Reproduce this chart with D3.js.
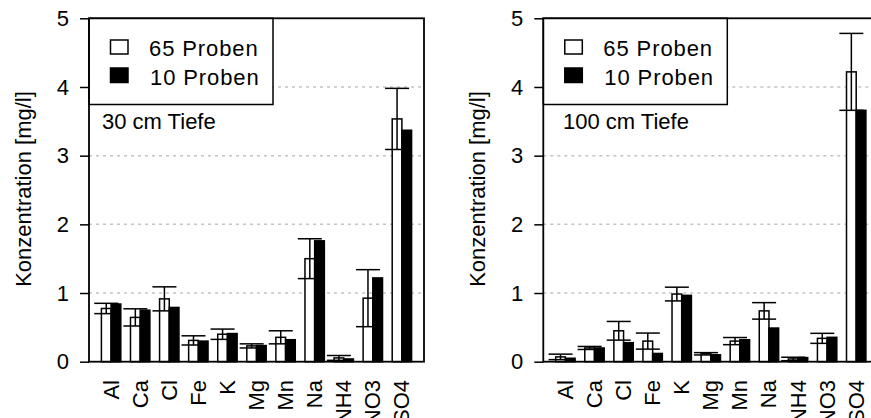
<!DOCTYPE html>
<html>
<head>
<meta charset="utf-8">
<script src="https://cdn.jsdelivr.net/npm/d3@7"></script>
<style>
  html, body { margin: 0; padding: 0; background: #fff; }
  svg { display: block; font-family: "Liberation Sans", Arial, Helvetica, sans-serif; }
</style>
</head>
<body>
<svg id="chart" width="871" height="418"></svg>
<script>
const categories = ["Al","Ca","Cl","Fe","K","Mg","Mn","Na","NH4","NO3","SO4"];
const seriesNames = ["65 Proben", "10 Proben"];

// 30 cm Tiefe
const mean65_30 = [0.775, 0.645, 0.915, 0.31, 0.40, 0.23, 0.355, 1.50, 0.055, 0.925, 3.535];
const err65_30  = [0.075, 0.125, 0.175, 0.067, 0.075, 0.03, 0.095, 0.29, 0.035, 0.415, 0.445];
const mean10_30 = [0.84, 0.75, 0.79, 0.30, 0.41, 0.235, 0.32, 1.76, 0.04, 1.22, 3.37];

// 100 cm Tiefe
const mean65_100 = [0.07, 0.20, 0.45, 0.30, 0.985, 0.115, 0.30, 0.74, 0.04, 0.34, 4.22];
const err65_100  = [0.04, 0.022, 0.136, 0.117, 0.10, 0.017, 0.052, 0.12, 0.025, 0.073, 0.56];
const mean10_100 = [0.05, 0.20, 0.277, 0.12, 0.966, 0.10, 0.32, 0.49, 0.06, 0.355, 3.66];

const yTicks = [0, 1, 2, 3, 4, 5];
const gridValues = [1, 2, 3, 4];
const yLabel = "Konzentration [mg/l]";
const panelTitles = ["30 cm Tiefe", "100 cm Tiefe"];

(function () {
const svg = d3.select("#chart");
const FONT = 22;

const panels = [
  { ox: 0, title: panelTitles[0], titleX: 102, m65: mean65_30, e65: err65_30, m10: mean10_30 },
  { ox: 454.3, title: panelTitles[1], titleX: 108.7, m65: mean65_100, e65: err65_100, m10: mean10_100 }
];

const pL = 89, pR = 424, pT = 18.3, pB = 361.7;

panels.forEach(p => {
  const g = svg.append("g").attr("transform", `translate(${p.ox},0)`);

  const y = d3.scaleLinear().domain([0, 5]).range([pB, pT]);
  const x0 = d3.scaleBand().domain(categories).range([pL, pR])
    .paddingInner(1/3).paddingOuter(0.4267);
  const x1 = d3.scaleBand().domain(seriesNames).range([0, x0.bandwidth()]).padding(0);

  // grid lines
  g.append("g").selectAll("line").data(gridValues).join("line")
    .attr("x1", pL).attr("x2", pR)
    .attr("y1", d => y(d)).attr("y2", d => y(d))
    .attr("stroke", "#c4c4c4").attr("stroke-width", 1.5)
    .attr("stroke-dasharray", "3,4");

  const rows = categories.map((c, i) => ({ c, m65: p.m65[i], e65: p.e65[i], m10: p.m10[i] }));

  // open bars
  g.append("g").selectAll("rect").data(rows).join("rect")
    .attr("x", d => x0(d.c) + x1(seriesNames[0]))
    .attr("width", x1.bandwidth())
    .attr("y", d => y(d.m65))
    .attr("height", d => y(0) - y(d.m65))
    .attr("fill", "#fff").attr("stroke", "#000").attr("stroke-width", 1.5);

  // black bars
  g.append("g").selectAll("rect").data(rows).join("rect")
    .attr("x", d => x0(d.c) + x1(seriesNames[1]))
    .attr("width", x1.bandwidth())
    .attr("y", d => y(d.m10))
    .attr("height", d => y(0) - y(d.m10))
    .attr("fill", "#000").attr("stroke", "#000").attr("stroke-width", 1.5);

  // error bars on open bars
  const eb = g.append("g").attr("stroke", "#000").attr("stroke-width", 1.5);
  const cx = d => x0(d.c) + x1(seriesNames[0]) + x1.bandwidth() / 2;
  const capHalf = 12;
  eb.selectAll("line.v").data(rows).join("line").attr("class", "v")
    .attr("x1", cx).attr("x2", cx)
    .attr("y1", d => y(d.m65 - d.e65)).attr("y2", d => y(d.m65 + d.e65));
  eb.selectAll("line.t").data(rows).join("line").attr("class", "t")
    .attr("x1", d => cx(d) - capHalf).attr("x2", d => cx(d) + capHalf)
    .attr("y1", d => y(d.m65 + d.e65)).attr("y2", d => y(d.m65 + d.e65));
  eb.selectAll("line.b").data(rows).join("line").attr("class", "b")
    .attr("x1", d => cx(d) - capHalf).attr("x2", d => cx(d) + capHalf)
    .attr("y1", d => y(d.m65 - d.e65)).attr("y2", d => y(d.m65 - d.e65));

  // legend box
  const lg = g.append("g");
  lg.append("rect").attr("x", pL).attr("y", pT).attr("width", 184).attr("height", 86.2)
    .attr("fill", "#fff").attr("stroke", "#000").attr("stroke-width", 1.5);
  lg.append("rect").attr("x", 110.5).attr("y", 40).attr("width", 17.5).attr("height", 14)
    .attr("fill", "#fff").attr("stroke", "#000").attr("stroke-width", 1.5);
  lg.append("rect").attr("x", 110.5).attr("y", 68).attr("width", 17.5).attr("height", 14.5)
    .attr("fill", "#000").attr("stroke", "#000").attr("stroke-width", 1.5);
  lg.append("text").attr("x", 149).attr("y", 56).attr("font-size", FONT)
    .attr("letter-spacing", 0.9).text(seriesNames[0]);
  lg.append("text").attr("x", 150).attr("y", 85).attr("font-size", FONT)
    .attr("letter-spacing", 0.9).text(seriesNames[1]);

  // panel title
  g.append("text").attr("x", p.titleX).attr("y", 129.3).attr("font-size", FONT).text(p.title);

  // y axis
  const ax = g.append("g").attr("transform", `translate(${pL},0)`)
    .call(d3.axisLeft(y).tickValues(yTicks).tickFormat(d3.format("d")).tickSize(9).tickPadding(11));
  ax.select(".domain").remove();
  ax.selectAll("line").attr("stroke", "#000").attr("stroke-width", 1.5);
  ax.selectAll("text").attr("font-size", FONT).attr("fill", "#000")
    .attr("font-family", "Liberation Sans, Arial, sans-serif");

  // plot box
  g.append("rect").attr("x", pL).attr("y", pT).attr("width", pR - pL).attr("height", pB - pT)
    .attr("fill", "none").attr("stroke", "#000").attr("stroke-width", 1.8);

  // category labels (rotated)
  g.append("g").selectAll("text").data(categories).join("text")
    .attr("transform", d => `translate(${x0(d) + x0.bandwidth() / 2},380) rotate(-90)`)
    .attr("text-anchor", "end").attr("dominant-baseline", "central")
    .attr("font-size", FONT).text(d => d);

  // y label
  g.append("text")
    .attr("transform", `translate(${pL - 66},189) rotate(-90)`)
    .attr("text-anchor", "middle").attr("dominant-baseline", "central")
    .attr("font-size", FONT).text(yLabel);
});
})();
</script>
</body>
</html>
